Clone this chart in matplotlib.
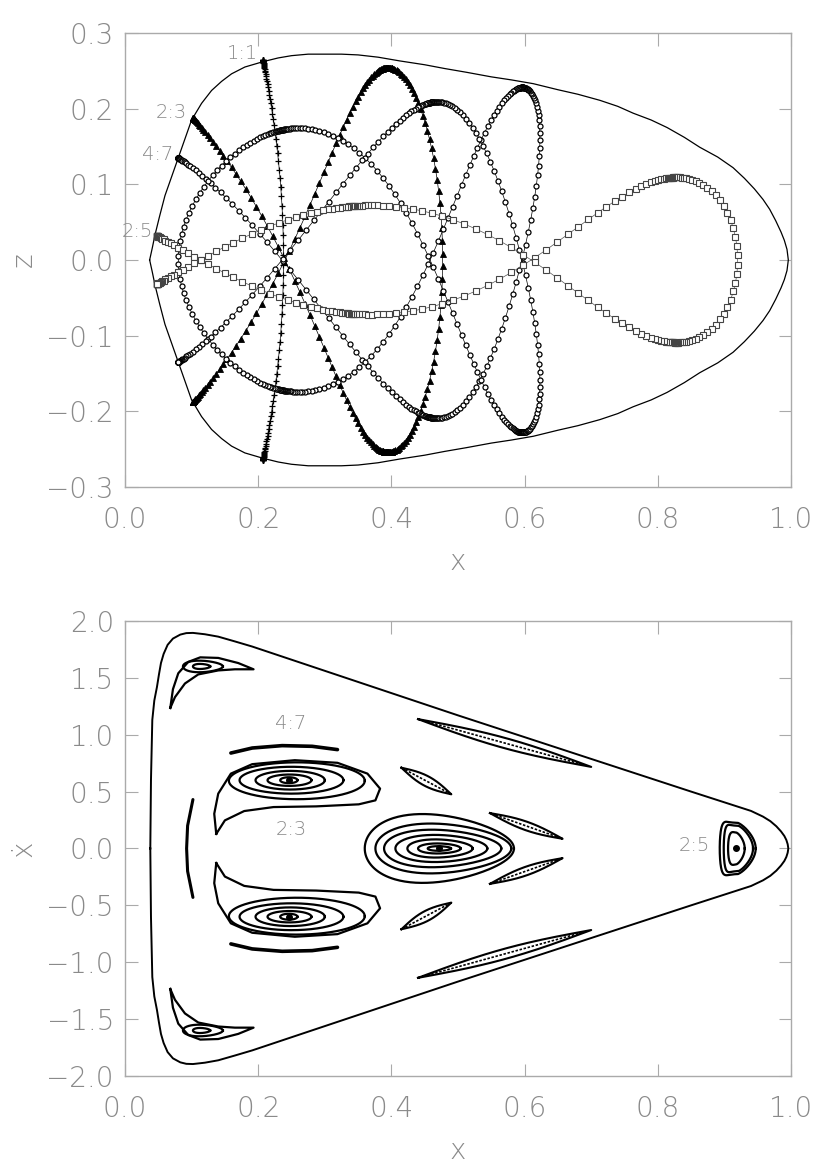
import numpy as np
import matplotlib
matplotlib.use("Agg")
import matplotlib.pyplot as plt

# ---------------- top panel: orbits in the (x, z) plane ----------------
# zero-velocity curve, upper half (mirrored for z < 0)
zvc_x = [0.037, 0.041, 0.045, 0.052, 0.06, 0.07, 0.08, 0.09, 0.1, 0.115, 0.13, 0.145,
         0.16, 0.18, 0.207, 0.23, 0.25, 0.275, 0.3, 0.325, 0.35, 0.38, 0.413, 0.45,
         0.48, 0.513, 0.55, 0.58, 0.613, 0.65, 0.68, 0.713, 0.74, 0.763, 0.79, 0.814,
         0.84, 0.863, 0.89, 0.913, 0.93, 0.945, 0.958, 0.968, 0.977, 0.985, 0.99,
         0.994, 0.996]
zvc_z = [0.0, 0.016, 0.033, 0.058, 0.085, 0.11, 0.135, 0.16, 0.185, 0.207, 0.224, 0.236,
         0.246, 0.255, 0.262, 0.267, 0.27, 0.272, 0.272, 0.272, 0.271, 0.268, 0.263, 0.258,
         0.253, 0.248, 0.242, 0.238, 0.233, 0.225, 0.219, 0.211, 0.203, 0.194, 0.185, 0.175,
         0.162, 0.149, 0.136, 0.122, 0.108, 0.094, 0.08, 0.067, 0.052, 0.037, 0.026,
         0.014, 0.0]

# resonant orbits: x and z-amplitude read at the turning/crossing phases,
# u = -cos(m t), z = A(u) cos(n t)
orbit_names = ["1:1", "2:3", "4:7", "2:5"]
orbit_m = [2, 2, 4, 2]
orbit_n = [1, 3, 7, 5]
orbit_u = [[-1, 1],
           [-1, -0.5, 0.5, 1],
           [-1, -0.623, 0.2225, 0.901, 1],
           [-1, -0.809, -0.309, 0.309, 0.809, 1]]
orbit_x = [[0.207, 0.238],
           [0.102, 0.24, 0.393, 0.477],
           [0.08, 0.236, 0.458, 0.596, 0.623],
           [0.048, 0.113, 0.34, 0.61, 0.823, 0.92]]
orbit_amp = [[0.264, 0.264],
             [0.188, 0.22, 0.254, 0.254],
             [0.135, 0.172, 0.208, 0.228, 0.228],
             [0.032, 0.045, 0.071, 0.09, 0.109, 0.11]]
orbit_npts = [110, 260, 560, 260]
orbit_slow = [0.75, 0.85, 0.85, 0.85]   # how much the orbit lingers near z turning points
orbit_marker = ["+", "^", "o", "s"]
label_x = [0.2, 0.093, 0.072, 0.042]
label_z = [0.273, 0.195, 0.14, 0.038]

# ---------------- bottom panel: surface of section (x, xdot) ----------------
sos_x = [0.038, 0.039, 0.041, 0.044, 0.048, 0.051, 0.054, 0.058, 0.064, 0.072, 0.083,
         0.092, 0.102, 0.12, 0.14, 0.165, 0.191, 0.5, 0.85, 0.94, 0.958, 0.969, 0.978,
         0.985, 0.99, 0.993, 0.995, 0.996]
sos_v = [0.0, 0.6, 1.13, 1.3, 1.42, 1.53, 1.63, 1.71, 1.79, 1.845, 1.88,
         1.893, 1.895, 1.883, 1.862, 1.82, 1.775, 1.17, 0.5, 0.33, 0.28, 0.24, 0.195,
         0.15, 0.11, 0.075, 0.038, 0.0]

# nested invariant curves (upper half islands are mirrored when v != 0)
ring_cx = [0.246, 0.247, 0.248, 0.25, 0.258,
           0.472, 0.472, 0.473, 0.475, 0.477, 0.478, 0.472,
           0.92, 0.921, 0.918,
           0.117, 0.115]
ring_cv = [0.60, 0.60, 0.60, 0.60, 0.595,
           0, 0, 0, 0, 0, 0, 0,
           0, 0, 0,
           1.60, 1.60]
ring_hw = [0.013, 0.033, 0.052, 0.078, 0.102,
           0.0175, 0.032, 0.049, 0.069, 0.088, 0.102, 0.112,
           0.027, 0.022, 0.0125,
           0.03, 0.013]
ring_hh = [0.026, 0.05, 0.082, 0.118, 0.162,
           0.02, 0.044, 0.079, 0.118, 0.162, 0.215, 0.294,
           0.226, 0.2, 0.14,
           0.05, 0.022]
ring_egg = [0, 0, 0, 0, 0,
            0.1, 0.1, 0.15, 0.15, 0.2, 0.2, 0.25,
            0.3, 0.3, 0.25,
            0.2, 0.2]
ring_flat = [1, 1, 1, 1, 1,
             1, 1, 1, 1, 1, 1, 1,
             0.35, 0.35, 0.6,
             1, 1]

# outer bean of the upper 2:3 island
bean_x = [0.137, 0.134, 0.14, 0.159, 0.191, 0.255, 0.319, 0.364, 0.383, 0.376,
          0.351, 0.287, 0.223, 0.179, 0.15, 0.137]
bean_v = [0.128, 0.305, 0.482, 0.658, 0.741, 0.776, 0.753, 0.658, 0.526, 0.423,
          0.388, 0.37, 0.364, 0.329, 0.247, 0.128]

# corner crescent (upper left)
cres_x = [0.068, 0.072, 0.08, 0.095, 0.113, 0.14, 0.17, 0.193, 0.165, 0.14, 0.11,
          0.09, 0.075, 0.068]
cres_v = [1.235, 1.40, 1.54, 1.64, 1.68, 1.675, 1.63, 1.575, 1.575, 1.565, 1.53,
          1.45, 1.33, 1.235]

# thin chain islands: end points and half thickness (pixels)
lens_x1 = [0.44, 0.415, 0.548]
lens_v1 = [1.137, 0.71, 0.311]
lens_x2 = [0.70, 0.49, 0.657]
lens_v2 = [0.717, 0.476, 0.085]
lens_w = [5.0, 5.0, 4.2]

# thin arcs
arc47_x = [0.159, 0.191, 0.236, 0.281, 0.319]
arc47_v = [0.839, 0.883, 0.904, 0.898, 0.869]
arcl_x = [0.102, 0.094, 0.0925, 0.094, 0.102]
arcl_v = [0.43, 0.20, 0.0, -0.20, -0.43]

centre_x = [0.246, 0.246, 0.472, 0.918]
centre_v = [0.60, -0.60, 0.0, 0.0]

sos_names = ["4:7", "2:3", "2:5"]
sos_lx = [0.249, 0.249, 0.855]
sos_lv = [1.10, 0.166, 0.03]

GREY = "#8a8a8a"
plt.rcParams["font.family"] = ["DejaVu Sans"]

fig = plt.figure(figsize=(8.3, 11.65), dpi=100)
ax1 = fig.add_axes([0.1506, 0.582, 0.8024, 0.3897])
ax2 = fig.add_axes([0.1506, 0.0764, 0.8024, 0.3906])


def style(ax):
    for sp in ax.spines.values():
        sp.set_color("#aaaaaa")
        sp.set_linewidth(1.0)
    ax.tick_params(direction="in", length=9, width=0.8, color="#aaaaaa",
                   top=True, right=True, labelsize=20, labelcolor=GREY)
    ax.tick_params(axis="x", pad=14)
    ax.tick_params(axis="y", pad=8)
    for lab in ax.get_xticklabels() + ax.get_yticklabels():
        lab.set_fontweight("light")
    ax.yaxis.label.set_va("center")
    ax.yaxis.set_label_coords(-0.152, 0.5)


# ---- top ----
zx = np.array(zvc_x)
zz = np.array(zvc_z)
ax1.plot(np.r_[zx, zx[::-1]], np.r_[zz, -zz[::-1]], color="k", lw=0.9)

for i, name in enumerate(orbit_names):
    deg = len(orbit_u[i]) - 1
    px = np.polyfit(orbit_u[i], orbit_x[i], deg)
    pa = np.polyfit(orbit_u[i], orbit_amp[i], deg)
    n = orbit_n[i]
    tau = np.linspace(0, np.pi, orbit_npts[i])
    t = tau - orbit_slow[i] * np.sin(2 * n * tau) / (2 * n)
    u = -np.cos(orbit_m[i] * t)
    x = np.polyval(px, u)
    z = np.polyval(pa, u) * np.cos(n * t)
    mk = orbit_marker[i]
    if mk == "+":
        ax1.plot(x, z, "-", color="k", lw=0.5, marker="+", ms=5, mew=0.9)
    elif mk == "^":
        ax1.plot(x, z, "-", color="k", lw=0.5, marker="^", ms=3.8, mfc="k", mew=0.6)
    elif mk == "o":
        ax1.plot(x, z, "-", color="k", lw=0.5, marker="o", ms=3.6, mfc="white",
                 mec="k", mew=0.9)
    else:
        ax1.plot(x, z, "-", color="#555555", lw=0.5, marker="s", ms=3.8, mfc="white",
                 mec="#444444", mew=0.8)
    ax1.text(label_x[i], label_z[i], name, ha="right", va="center", fontsize=14,
             color=GREY, fontweight="light")

ax1.set_xlim(0, 1)
ax1.set_ylim(-0.3, 0.3)
ax1.set_xticks(np.arange(0, 1.01, 0.2))
ax1.set_yticks(np.arange(-0.3, 0.31, 0.1))
ax1.xaxis.set_major_formatter(matplotlib.ticker.FormatStrFormatter("%.1f"))
ax1.yaxis.set_major_formatter(matplotlib.ticker.FuncFormatter(
    lambda v, p: ("%.1f" % v).replace("-", "\u2212")))
ax1.set_xlabel("x", fontsize=20, color=GREY, labelpad=10, fontweight="light")
ax1.set_ylabel("z", fontsize=20, color=GREY, fontweight="light")
style(ax1)

# ---- bottom ----
sx = np.array(sos_x)
sv = np.array(sos_v)
ax2.plot(np.r_[sx, sx[::-1]], np.r_[sv, -sv[::-1]], color="k", lw=1.4)

th = np.linspace(0, 2 * np.pi, 240)
c, s = np.cos(th), np.sin(th)
for i in range(len(ring_cx)):
    xx = np.where(c < 0, -np.abs(c) ** ring_flat[i], c)
    x = ring_cx[i] + ring_hw[i] * xx
    v = ring_hh[i] * s * (1 - ring_egg[i] * c)
    signs = [1, -1] if ring_cv[i] != 0 else [1]
    for sg in signs:
        ax2.plot(x, sg * ring_cv[i] + v, color="k", lw=1.6)

for sg in [1, -1]:
    ax2.plot(bean_x, sg * np.array(bean_v), color="k", lw=1.6)
    ax2.plot(cres_x, sg * np.array(cres_v), color="k", lw=1.6)
    ax2.plot(arc47_x, sg * np.array(arc47_v), color="k", lw=2.6,
             solid_capstyle="round")

ax2.plot(arcl_x, arcl_v, color="k", lw=2.2, solid_capstyle="round")

scale = np.array([666.0, 113.4])
sl = np.linspace(0, 1, 80)
for i in range(len(lens_x1)):
    for sg in [1, -1]:
        p1 = np.array([lens_x1[i], sg * lens_v1[i]])
        p2 = np.array([lens_x2[i], sg * lens_v2[i]])
        d = (p2 - p1) * scale
        nrm = np.array([-d[1], d[0]]) / np.hypot(*d)
        base = p1[None, :] + sl[:, None] * (p2 - p1)[None, :]
        off = (lens_w[i] * np.sin(np.pi * sl))[:, None] * nrm[None, :] / scale
        top = base + off
        bot = base - off
        pts = np.vstack([top, bot[::-1], top[:1]])
        ax2.plot(pts[:, 0], pts[:, 1], color="k", lw=1.5)
        ax2.plot(base[6:-6, 0], base[6:-6, 1], color="k", lw=1.2, ls=(0, (1.5, 1)))

ax2.plot(centre_x, centre_v, "o", color="k", ms=4)

for i, name in enumerate(sos_names):
    ax2.text(sos_lx[i], sos_lv[i], name, ha="center", va="center", fontsize=14,
             color=GREY, fontweight="light")

ax2.set_xlim(0, 1)
ax2.set_ylim(-2, 2)
ax2.set_xticks(np.arange(0, 1.01, 0.2))
ax2.set_yticks(np.arange(-2, 2.01, 0.5))
ax2.xaxis.set_major_formatter(matplotlib.ticker.FormatStrFormatter("%.1f"))
ax2.yaxis.set_major_formatter(matplotlib.ticker.FuncFormatter(
    lambda v, p: ("%.1f" % v).replace("-", "\u2212")))
ax2.set_xlabel("x", fontsize=20, color=GREY, labelpad=10, fontweight="light")
ax2.set_ylabel("\u1e8b", fontsize=20, color=GREY, fontweight="light")
style(ax2)

fig.savefig("out.png", dpi=100)
